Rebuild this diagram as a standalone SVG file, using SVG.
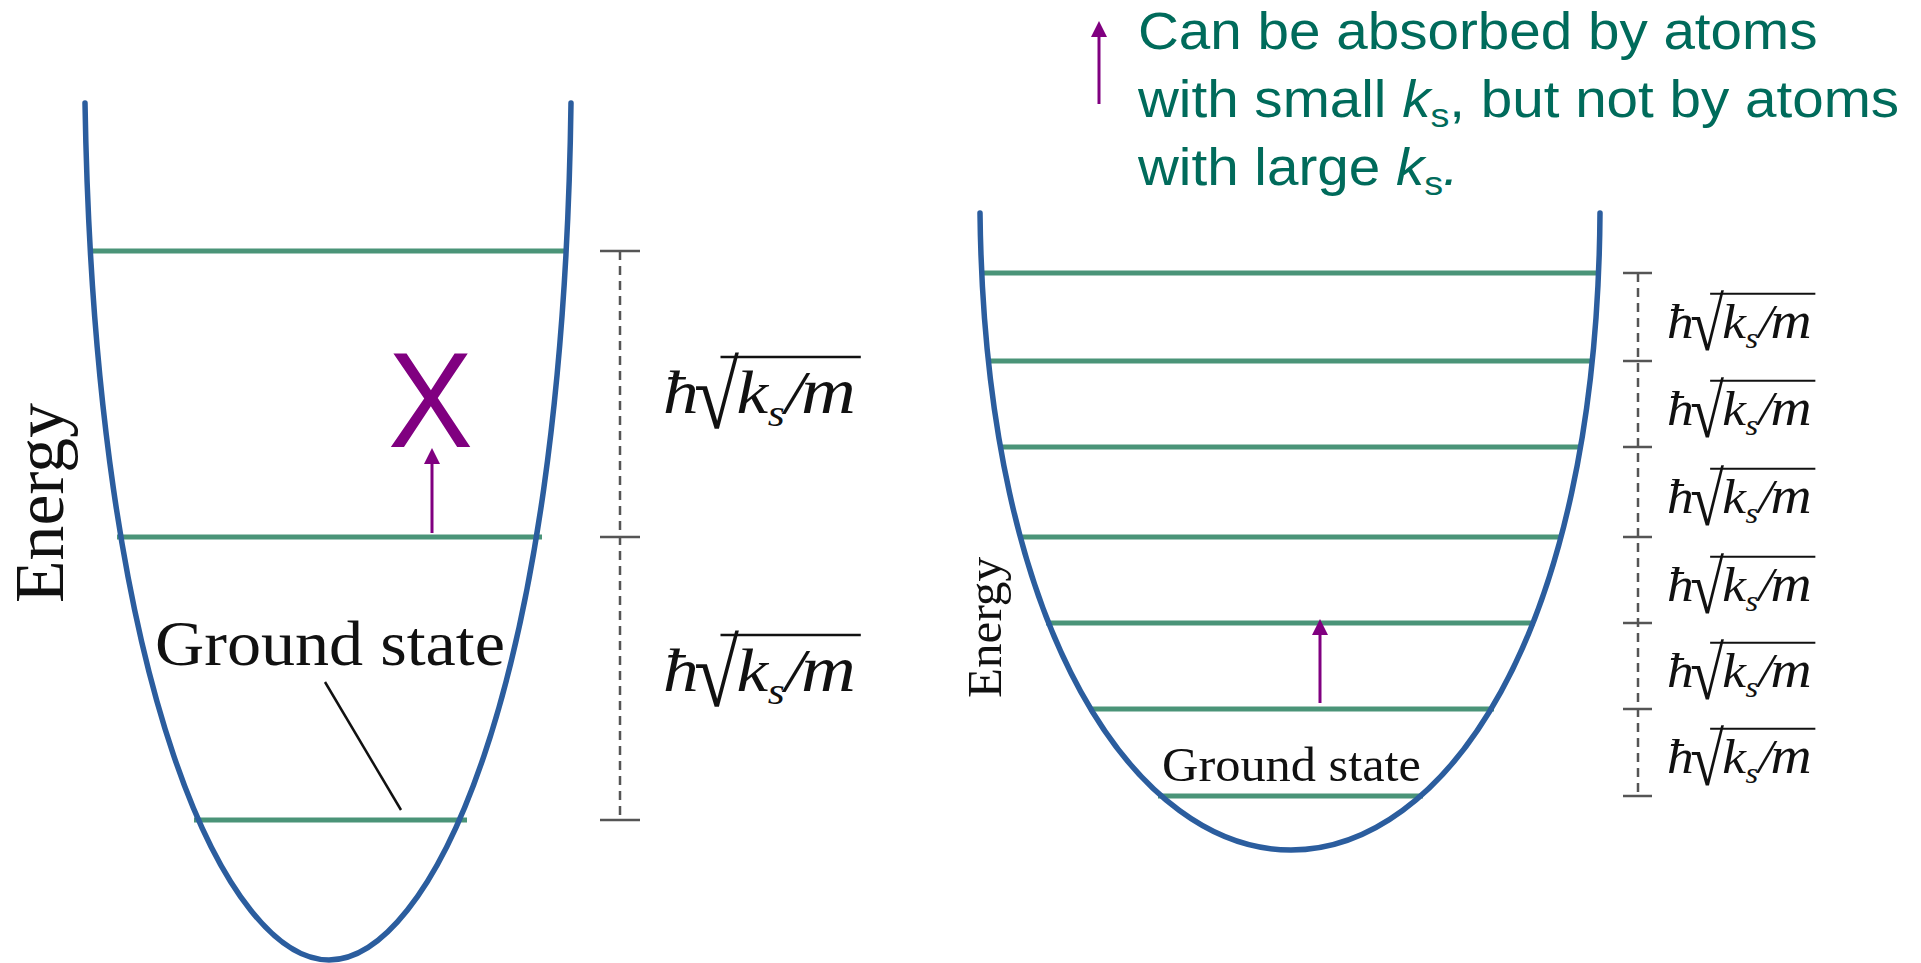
<svg xmlns="http://www.w3.org/2000/svg" width="1921" height="963" viewBox="0 0 1921 963">
<style>
.well{fill:none;stroke:#2b5d9e;stroke-width:5.5;stroke-linecap:round}
.lvl{stroke:#4a9478;stroke-width:5}
.dash{stroke:#555;stroke-width:2.5;stroke-dasharray:9 6;fill:none}
.tick{stroke:#555;stroke-width:2.5}
.serif{font-family:"Liberation Serif","Times New Roman",serif;fill:#111}
.it{font-style:italic}
.f{font-family:"Liberation Serif","Times New Roman",serif;fill:#111;font-size:62px}
.note{font-family:"Liberation Sans",Arial,sans-serif;fill:#006b5b;font-size:51px}
.arr{stroke:#800080;stroke-width:3;fill:none}
.vinc{stroke:#111;stroke-width:2.4}
</style>
<defs>
<marker id="ah" viewBox="0 0 16 16" refX="0" refY="8" markerWidth="16" markerHeight="16" markerUnits="userSpaceOnUse" orient="auto">
<path d="M0,0 L16,8 L0,16 z" fill="#800080"/>
</marker>
</defs>
<rect width="1921" height="963" fill="#fff"/>

<g id="left-diagram">
<g id="left-levels">
<line class="lvl" x1="90" y1="251" x2="568" y2="251"/>
<line class="lvl" x1="117" y1="537" x2="542" y2="537"/>
<line class="lvl" x1="194" y1="820" x2="467" y2="820"/>
</g>
<path id="left-well" class="well" d="M85,103 C95,700 230,960 329,960 C428,960 563,700 571,103"/>
<g id="left-energy"><text class="serif" font-size="70" textLength="200" lengthAdjust="spacingAndGlyphs" transform="translate(63,603) rotate(-90)">Energy</text></g>
<g id="left-ground-label">
<text class="serif" x="155" y="665" font-size="64" textLength="350" lengthAdjust="spacingAndGlyphs">Ground state</text>
<line x1="325" y1="682" x2="401" y2="810" stroke="#111" stroke-width="2.5"/>
</g>
<g id="left-x"><text x="388" y="447" font-family="Liberation Sans, Arial, sans-serif" font-size="136" fill="#800080" textLength="85" lengthAdjust="spacingAndGlyphs">X</text></g>
<g id="left-bracket">
<line class="dash" x1="620" y1="251" x2="620" y2="820"/>
<line class="tick" x1="600" y1="251" x2="640" y2="251"/>
<line class="tick" x1="600" y1="537" x2="640" y2="537"/>
<line class="tick" x1="600" y1="820" x2="640" y2="820"/>
</g>
<g id="left-label-1" transform="translate(663,413) scale(1.15,1)">
<text class="f"><tspan class="it" x="0" y="0">ħ</tspan><tspan class="it" x="64">k</tspan><tspan class="it" x="91" y="13" font-size="38">s</tspan><tspan class="it" x="106" y="0">/</tspan><tspan class="it" x="120" font-size="66">m</tspan></text>
<text class="f" font-size="84" transform="translate(27,15) scale(1.15,1.54)">√</text>
<line class="vinc" x1="50" y1="-56" x2="172" y2="-56"/>
</g>
<g id="left-label-2" transform="translate(663,691) scale(1.15,1)">
<text class="f"><tspan class="it" x="0" y="0">ħ</tspan><tspan class="it" x="64">k</tspan><tspan class="it" x="91" y="13" font-size="38">s</tspan><tspan class="it" x="106" y="0">/</tspan><tspan class="it" x="120" font-size="66">m</tspan></text>
<text class="f" font-size="84" transform="translate(27,15) scale(1.15,1.54)">√</text>
<line class="vinc" x1="50" y1="-56" x2="172" y2="-56"/>
</g>
</g>

<g id="right-diagram">
<g id="right-levels">
<line class="lvl" x1="981" y1="273" x2="1598" y2="273"/>
<line class="lvl" x1="988" y1="361" x2="1593" y2="361"/>
<line class="lvl" x1="999" y1="447" x2="1582" y2="447"/>
<line class="lvl" x1="1019" y1="537" x2="1562" y2="537"/>
<line class="lvl" x1="1046" y1="623" x2="1535" y2="623"/>
<line class="lvl" x1="1089" y1="709" x2="1494" y2="709"/>
<line class="lvl" x1="1158" y1="796" x2="1423" y2="796"/>
</g>
<path id="right-well" class="well" d="M980,213 C985,640 1140,850 1291,850 C1442,850 1597,640 1600,213"/>
<g id="right-energy"><text class="serif" font-size="49" textLength="141" lengthAdjust="spacingAndGlyphs" transform="translate(1001,698) rotate(-90)">Energy</text></g>
<g id="right-ground-label"><text class="serif" x="1162" y="781" font-size="48" textLength="259" lengthAdjust="spacingAndGlyphs">Ground state</text></g>
<g id="right-bracket">
<line class="dash" x1="1638" y1="273" x2="1638" y2="796"/>
<line class="tick" x1="1623" y1="273" x2="1652" y2="273"/>
<line class="tick" x1="1623" y1="361" x2="1652" y2="361"/>
<line class="tick" x1="1623" y1="447" x2="1652" y2="447"/>
<line class="tick" x1="1623" y1="537" x2="1652" y2="537"/>
<line class="tick" x1="1623" y1="623" x2="1652" y2="623"/>
<line class="tick" x1="1623" y1="709" x2="1652" y2="709"/>
<line class="tick" x1="1623" y1="796" x2="1652" y2="796"/>
</g>
<g id="right-label-1" transform="translate(1667,338) scale(0.8625,0.79)">
<text class="f"><tspan class="it" x="0" y="0">ħ</tspan><tspan class="it" x="64">k</tspan><tspan class="it" x="91" y="13" font-size="38">s</tspan><tspan class="it" x="106" y="0">/</tspan><tspan class="it" x="120" font-size="66">m</tspan></text>
<text class="f" font-size="84" transform="translate(27,15) scale(1.15,1.54)">√</text>
<line class="vinc" x1="50" y1="-56" x2="172" y2="-56"/>
</g>
<g id="right-label-2" transform="translate(1667,425) scale(0.8625,0.79)">
<text class="f"><tspan class="it" x="0" y="0">ħ</tspan><tspan class="it" x="64">k</tspan><tspan class="it" x="91" y="13" font-size="38">s</tspan><tspan class="it" x="106" y="0">/</tspan><tspan class="it" x="120" font-size="66">m</tspan></text>
<text class="f" font-size="84" transform="translate(27,15) scale(1.15,1.54)">√</text>
<line class="vinc" x1="50" y1="-56" x2="172" y2="-56"/>
</g>
<g id="right-label-3" transform="translate(1667,513) scale(0.8625,0.79)">
<text class="f"><tspan class="it" x="0" y="0">ħ</tspan><tspan class="it" x="64">k</tspan><tspan class="it" x="91" y="13" font-size="38">s</tspan><tspan class="it" x="106" y="0">/</tspan><tspan class="it" x="120" font-size="66">m</tspan></text>
<text class="f" font-size="84" transform="translate(27,15) scale(1.15,1.54)">√</text>
<line class="vinc" x1="50" y1="-56" x2="172" y2="-56"/>
</g>
<g id="right-label-4" transform="translate(1667,601) scale(0.8625,0.79)">
<text class="f"><tspan class="it" x="0" y="0">ħ</tspan><tspan class="it" x="64">k</tspan><tspan class="it" x="91" y="13" font-size="38">s</tspan><tspan class="it" x="106" y="0">/</tspan><tspan class="it" x="120" font-size="66">m</tspan></text>
<text class="f" font-size="84" transform="translate(27,15) scale(1.15,1.54)">√</text>
<line class="vinc" x1="50" y1="-56" x2="172" y2="-56"/>
</g>
<g id="right-label-5" transform="translate(1667,687) scale(0.8625,0.79)">
<text class="f"><tspan class="it" x="0" y="0">ħ</tspan><tspan class="it" x="64">k</tspan><tspan class="it" x="91" y="13" font-size="38">s</tspan><tspan class="it" x="106" y="0">/</tspan><tspan class="it" x="120" font-size="66">m</tspan></text>
<text class="f" font-size="84" transform="translate(27,15) scale(1.15,1.54)">√</text>
<line class="vinc" x1="50" y1="-56" x2="172" y2="-56"/>
</g>
<g id="right-label-6" transform="translate(1667,773) scale(0.8625,0.79)">
<text class="f"><tspan class="it" x="0" y="0">ħ</tspan><tspan class="it" x="64">k</tspan><tspan class="it" x="91" y="13" font-size="38">s</tspan><tspan class="it" x="106" y="0">/</tspan><tspan class="it" x="120" font-size="66">m</tspan></text>
<text class="f" font-size="84" transform="translate(27,15) scale(1.15,1.54)">√</text>
<line class="vinc" x1="50" y1="-56" x2="172" y2="-56"/>
</g>
</g>

<g id="annotation">
<g transform="translate(1138,0) scale(1.11,1)">
<text class="note" x="0" y="49">Can be absorbed by atoms</text>
<text class="note" x="0" y="117">with small <tspan font-style="italic">k</tspan><tspan font-size="34" dy="10">s</tspan><tspan dy="-10">, but not by atoms</tspan></text>
<text class="note" x="0" y="185">with large <tspan font-style="italic">k</tspan><tspan font-size="34" dy="10">s</tspan><tspan dy="-10" font-style="italic">.</tspan></text>
</g>
</g>

<g id="connectors">
<line class="arr" x1="432" y1="533" x2="432" y2="464" marker-end="url(#ah)"/>
<line class="arr" x1="1320" y1="703" x2="1320" y2="635" marker-end="url(#ah)"/>
<line class="arr" x1="1099" y1="104" x2="1099" y2="37" marker-end="url(#ah)"/>
</g>
</svg>
